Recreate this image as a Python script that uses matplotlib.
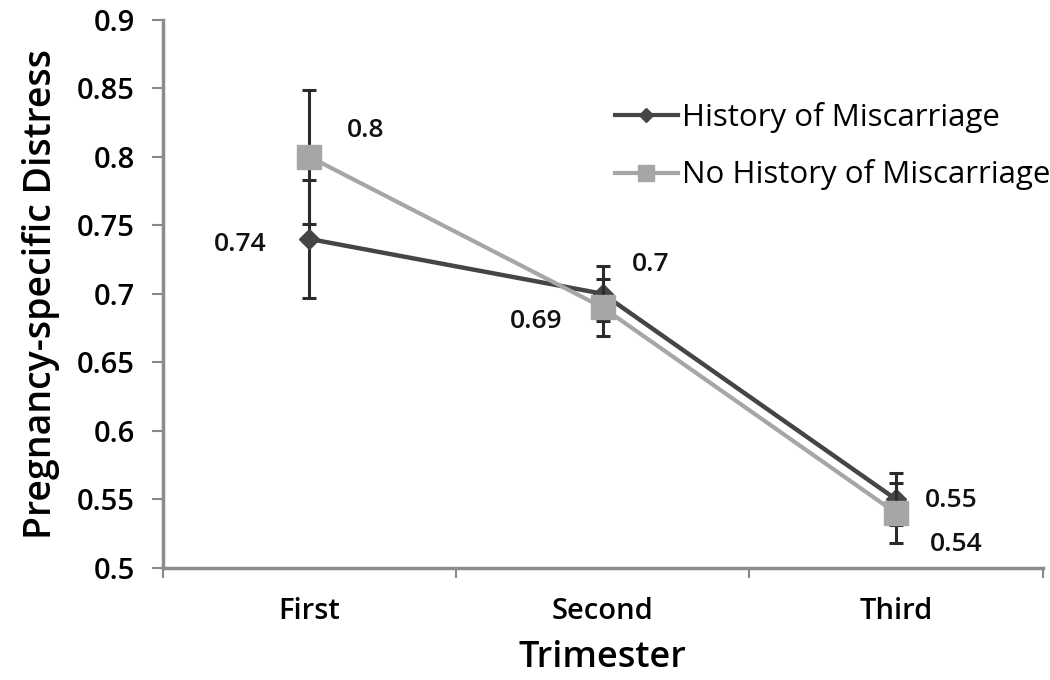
import numpy as np
import matplotlib
matplotlib.use("Agg")
import matplotlib.pyplot as plt
from matplotlib.lines import Line2D
from matplotlib.ticker import FixedLocator

plt.rcParams["font.family"] = ["Open Sans", "DejaVu Sans"]

# Data
trimesters = ["First", "Second", "Third"]
history_vals = [0.74, 0.70, 0.55]
history_err = [0.043, 0.020, 0.019]
no_history_vals = [0.80, 0.69, 0.54]
no_history_err = [0.049, 0.021, 0.022]
series_names = ["History of Miscarriage", "No History of Miscarriage"]

DARK = "#454545"
LIGHT = "#a6a6a6"
ECOL = "#2b2b2b"

fig = plt.figure(figsize=(10.5, 6.8), dpi=100)
ax = fig.add_axes([0.155, 0.165, 0.838, 0.806])

x = np.arange(1, len(trimesters) + 1)

ax.errorbar(x, history_vals, yerr=history_err, color=DARK, lw=3.2, marker="D",
            ms=10, mfc=DARK, mec=DARK, ecolor=ECOL, elinewidth=2.2, capsize=5,
            capthick=2.2, zorder=3)
ax.errorbar(x, no_history_vals, yerr=no_history_err, color=LIGHT, lw=3,
            marker="s", ms=17, mfc=LIGHT, mec=LIGHT, ecolor=ECOL,
            elinewidth=2.2, capsize=5, capthick=2.2, zorder=4)

# value labels (offsets in pixels)
hist_offsets = [(-69, -6), (48, 29), (55, -1)]
nohist_offsets = [(56, 26), (-67, -14), (60, -32)]
for xi, v, off in zip(x, history_vals, hist_offsets):
    ax.annotate(f"{v:g}", (xi, v), xytext=off, textcoords="offset pixels",
                ha="center", va="center", fontsize=19, fontweight="semibold",
                color="#111111")
for xi, v, off in zip(x, no_history_vals, nohist_offsets):
    ax.annotate(f"{v:g}", (xi, v), xytext=off, textcoords="offset pixels",
                ha="center", va="center", fontsize=19, fontweight="semibold",
                color="#111111")

ax.set_xlim(0.5, 3.5)
ax.set_ylim(0.5, 0.9)
ax.set_xticks(x)
ax.set_xticklabels(trimesters)
ax.xaxis.set_minor_locator(FixedLocator([0.5, 1.5, 2.5, 3.5]))
ax.tick_params(axis="x", which="major", length=0, pad=21, labelsize=21)
ax.tick_params(axis="x", which="minor", length=7, width=1.5, color="#888888")
yt = np.arange(0.5, 0.901, 0.05)
ax.set_yticks(yt)
ax.set_yticklabels([f"{t:g}" for t in yt])
ax.tick_params(axis="y", length=8, width=1.5, color="#888888", pad=12,
               labelsize=21)
for lab in ax.get_xticklabels() + ax.get_yticklabels():
    lab.set_fontweight("semibold")

for s in ["top", "right"]:
    ax.spines[s].set_visible(False)
for s in ["left", "bottom"]:
    ax.spines[s].set_color("#8c8c8c")
    ax.spines[s].set_linewidth(2.5)

ax.set_xlabel("Trimester", fontsize=26, fontweight="semibold", labelpad=10)
ax.set_ylabel("Pregnancy-specific Distress", fontsize=27,
              fontweight="semibold", labelpad=12)

handles = [
    Line2D([], [], color=DARK, lw=3, marker="D", ms=7, mfc=DARK, mec=DARK),
    Line2D([], [], color=LIGHT, lw=3, marker="s", ms=12, mfc=LIGHT, mec=LIGHT),
]
ax.legend(handles, series_names, loc="upper left",
          bbox_to_anchor=(0.514, 0.85), frameon=False, fontsize=22.5,
          handlelength=2.0, handletextpad=0.15, labelspacing=0.85,
          borderpad=0, borderaxespad=0)

fig.savefig("out.png", dpi=100, facecolor="white")
